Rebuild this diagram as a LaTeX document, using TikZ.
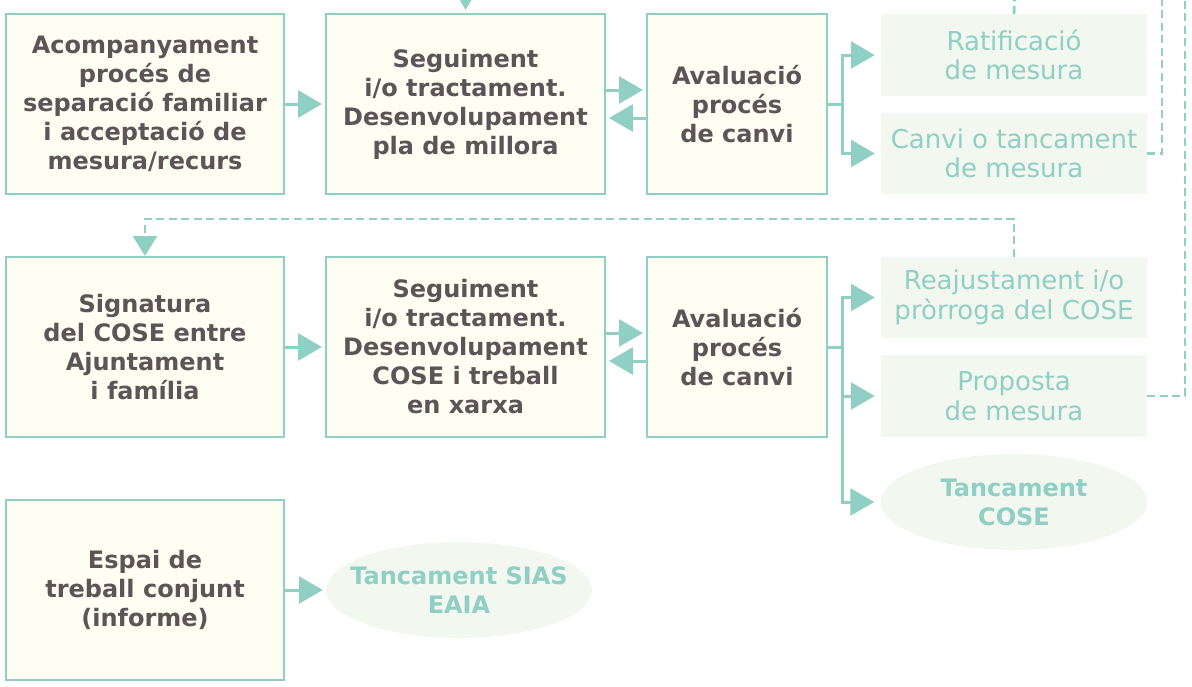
\documentclass[tikz,border=0pt]{standalone}
\usepackage{fontspec}
\setmainfont{DejaVu Sans}
\usetikzlibrary{arrows.meta,shapes.geometric}
\definecolor{teal1}{HTML}{8FCFC4}
\definecolor{cream}{HTML}{FEFEF3}
\definecolor{pale}{HTML}{F2F7EF}
\definecolor{txt}{HTML}{5C5557}
\tikzset{
  darkbox/.style={draw=teal1, line width=2pt, fill=cream, text=txt, align=center,
    inner sep=0pt, font=\fontsize{24}{29}\selectfont\bfseries},
  palebox/.style={fill=pale, text=teal1, align=center, inner sep=0pt,
    minimum width=266pt, font=\fontsize{26}{29.5}\selectfont},
  paleoval/.style={ellipse, fill=pale, inner sep=0pt,
    minimum width=267pt, minimum height=96pt},
  ovaltext/.style={text=teal1, align=center, inner sep=0pt,
    font=\fontsize{24}{29}\selectfont\bfseries},
  arr/.style={draw=teal1, line width=3pt, -{Triangle[length=24pt,width=27pt]}, shorten >=3pt},
  branch/.style={draw=teal1, line width=3pt, -{Triangle[length=24pt,width=27pt]}, shorten >=6pt},
  plain/.style={draw=teal1, line width=3pt},
  dashline/.style={draw=teal1, line width=2.8pt, dash pattern=on 8pt off 4.5pt},
}
\begin{document}
\begin{tikzpicture}[x=1pt,y=-1pt]
\useasboundingbox (0,0) rectangle (1192,686);
% row 1
\node[darkbox, minimum width=278pt, minimum height=180pt] (A1) at (145,104)
  {Acompanyament\\procés de\\separació familiar\\i acceptació de\\mesura/recurs};
\node[darkbox, minimum width=279pt, minimum height=180pt] (B1) at (465.5,104)
  {Seguiment\\i/o tractament.\\Desenvolupament\\pla de millora};
\node[darkbox, minimum width=180pt, minimum height=180pt] (C1) at (737,104)
  {Avaluació\\procés\\de canvi};
\node[palebox, minimum height=82pt] (R1) at (1014,55) {Ratificació\\de mesura};
\node[palebox, minimum height=81pt] (K1) at (1014,153.5) {Canvi o tancament\\de mesura};
% row 2
\node[darkbox, minimum width=278pt, minimum height=180pt] (A2) at (145,347)
  {Signatura\\del COSE entre\\Ajuntament\\i família};
\node[darkbox, minimum width=279pt, minimum height=180pt] (B2) at (465.5,347)
  {Seguiment\\i/o tractament.\\Desenvolupament\\COSE i treball\\en xarxa};
\node[darkbox, minimum width=180pt, minimum height=180pt] (C2) at (737,347)
  {Avaluació\\procés\\de canvi};
\node[palebox, minimum height=81pt] (R2) at (1014,297.5) {Reajustament i/o\\pròrroga del COSE};
\node[palebox, minimum height=82pt] (P2) at (1014,396) {Proposta\\de mesura};
\node[paleoval, label={[ovaltext]center:Tancament\\COSE}] (T2) at (1014,502) {};
% row 3
\node[darkbox, minimum width=278pt, minimum height=180pt] (A3) at (145,590)
  {Espai de\\treball conjunt\\(informe)};
\node[paleoval, minimum width=266pt, label={[ovaltext]center:Tancament SIAS\\EAIA}] (T3) at (459,590) {};

% coordinates
\coordinate (o0) at (466,-20);
\coordinate (o1) at (1015,-10);
\coordinate (o2) at (1162,-10);
\coordinate (o3) at (1185,-10);
\coordinate (j1) at (842,104);
\coordinate (j2) at (842,347);
\coordinate (d1) at (145,219);

% solid arrows
\draw[arr] (o0) -- (B1.north);
\draw[arr] (A1.east) -- (B1.west);
\draw[arr] ([yshift=14pt]B1.east) -- ([yshift=14pt]C1.west);
\draw[arr] ([yshift=-14pt]C1.west) -- ([yshift=-14pt]B1.east);
\draw[plain] (C1.east) -- (j1);
\draw[branch] (j1) |- (R1.west);
\draw[branch] (j1) |- (K1.west);

\draw[arr] (A2.east) -- (B2.west);
\draw[arr] ([yshift=14pt]B2.east) -- ([yshift=14pt]C2.west);
\draw[arr] ([yshift=-14pt]C2.west) -- ([yshift=-14pt]B2.east);
\draw[plain] (C2.east) -- (j2);
\draw[branch] (j2) |- (R2.west);
\draw[branch] (j2) |- (P2.west);
\draw[branch] (j2) |- (T2.west);

\draw[arr] (A3.east) -- (T3.west);

% dashed connectors
\draw[dashline] (R1.north) -- (o1);
\draw[dashline] (K1.east) -| (o2);
\draw[dashline] (P2.east) -| (o3);
\draw[dashline, -{Triangle[length=20pt,width=24pt]}] (R2.north) |- (d1) -- (A2.north);
\end{tikzpicture}
\end{document}
